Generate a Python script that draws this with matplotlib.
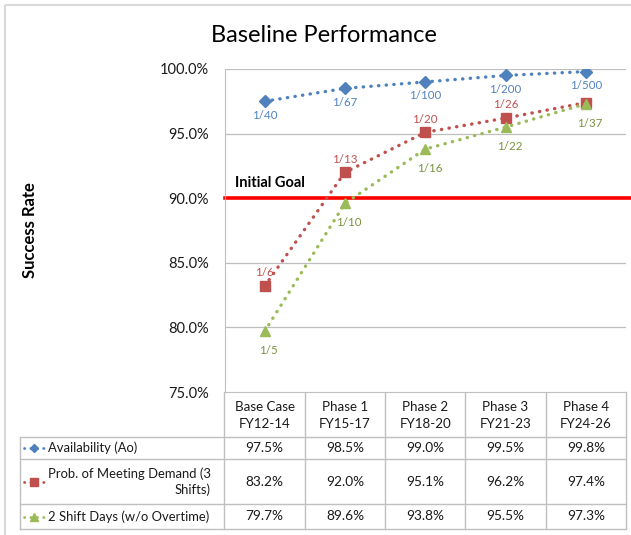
import numpy as np
import matplotlib.pyplot as plt
import matplotlib.transforms as mtransforms
from matplotlib.lines import Line2D
from matplotlib.patches import Rectangle

plt.rcParams['font.family'] = ['Lato', 'DejaVu Sans']

# data
phases = ['Base Case\nFY12-14', 'Phase 1\nFY15-17', 'Phase 2\nFY18-20', 'Phase 3\nFY21-23', 'Phase 4\nFY24-26']
series_names = ['Availability (Ao)', 'Prob. of Meeting Demand (3\nShifts)', '2 Shift Days (w/o Overtime)']
availability = [97.5, 98.5, 99.0, 99.5, 99.8]
demand = [83.2, 92.0, 95.1, 96.2, 97.4]
two_shift = [79.7, 89.6, 93.8, 95.5, 97.3]
avail_lbl = ['1/40', '1/67', '1/100', '1/200', '1/500']
demand_lbl = ['1/6', '1/13', '1/20', '1/26', '']
shift_lbl = ['1/5', '1/10', '1/16', '1/22', '1/37']
goal = 90.0

W, H = 631, 535
blue, red, green = '#4F81BD', '#C0504D', '#9BBB59'
grid_c = '#BFBFBF'
txt_c = '#1A1A1A'

fig = plt.figure(figsize=(W/100, H/100), dpi=100)
# pixel-coordinate overlay for frame and table
pax = fig.add_axes([0, 0, 1, 1])
pax.set_xlim(0, W)
pax.set_ylim(H, 0)
pax.axis('off')
pax.add_patch(Rectangle((5, 5), W, H, fill=False, ec='#D9D9D9', lw=1.5))

x0, x1, ytop, ybot = 224.5, 626, 69, 392
ax = fig.add_axes([x0/W, 1-ybot/H, (x1-x0)/W, (ybot-ytop)/H])
ax.set_xlim(-0.5, 4.5)
ax.set_ylim(75, 100)
ax.set_yticks([75, 80, 85, 90, 95, 100])
ax.set_yticklabels(['%.1f%%' % v for v in [75, 80, 85, 90, 95, 100]], fontsize=10.5, color=txt_c)
ax.set_xticks([])
ax.tick_params(axis='y', length=0, pad=11)
for s in ['top', 'right']:
    ax.spines[s].set_visible(False)
ax.spines['left'].set_color(grid_c)
ax.spines['bottom'].set_color(grid_c)
for v in [80, 85, 90, 95, 100]:
    ax.axhline(v, color=grid_c, lw=0.9, zorder=0)

x = np.arange(len(phases))
dot = (0, (0.1, 2.2))
styles = [(availability, blue, 'D', 6, avail_lbl, (0, -10), blue),
          (demand, red, 's', 7, demand_lbl, (0, 9.5), red),
          (two_shift, green, '^', 7, shift_lbl, (3, -14), '#77933C')]
for vals, c, m, ms, lbls, off, lc in styles:
    ax.plot(x, vals, color=c, lw=2.4, linestyle=dot, dash_capstyle='round',
            marker=m, markersize=ms, markeredgecolor=c, zorder=3)
    for xi, v, t in zip(x, vals, lbls):
        ax.annotate(t, (xi, v), xytext=off, textcoords='offset points',
                    ha='center', va='center', fontsize=8.3, color=lc)

ax.axhline(goal, xmin=0, xmax=(W-x0)/(x1-x0), color='#FF0000', lw=2.6, clip_on=False, zorder=2)
ax.text(235, 183, 'Initial Goal', transform=pax.transData, fontsize=10.5,
        fontweight='bold', va='center', ha='left')

fig.text(0.5*(210+437)/W, 1-35/H, 'Baseline Performance', fontsize=17, ha='center', va='center')
pax.text(30, 230, 'Success Rate', rotation=90, fontsize=12, fontweight='bold',
         ha='center', va='center')

# data table below the plot
bt = mtransforms.blended_transform_factory(ax.transData, pax.transData)
rows = [392, 437, 459, 504, 529]
tab_left = 20
for xb in np.arange(-0.5, 5, 1.0):
    pax.add_line(Line2D([xb, xb], [rows[0], rows[-1]], transform=bt, color=grid_c, lw=1))
pax.plot([tab_left, tab_left], [rows[1], rows[-1]], color=grid_c, lw=1)
for yb in rows[1:]:
    pax.plot([tab_left, x1], [yb, yb], color=grid_c, lw=1)

for xi, p in zip(x, phases):
    pax.text(xi, (rows[0]+rows[1])/2+1, p, transform=bt, ha='center', va='center',
             fontsize=9.6, linespacing=1.5, color=txt_c)

table_vals = [availability, demand, two_shift]
keys = [(blue, 'D', 4.5), (red, 's', 5.5), (green, '^', 5.5)]
for r, (name, vals, (c, m, ms)) in enumerate(zip(series_names, table_vals, keys)):
    yc = (rows[r+1]+rows[r+2])/2
    pax.plot([24, 34, 44], [yc, yc, yc], color=c, lw=2, linestyle=dot,
             dash_capstyle='round', marker=m, markersize=ms, markevery=[1])
    pax.text(48, yc, name, ha='left', va='center', fontsize=9.4, color=txt_c,
             multialignment='right', linespacing=1.35)
    for xi, v in zip(x, vals):
        pax.text(xi, yc, '%.1f%%' % v, transform=bt, ha='center', va='center',
                 fontsize=9.8, color=txt_c)

fig.savefig('out.png', dpi=100)
